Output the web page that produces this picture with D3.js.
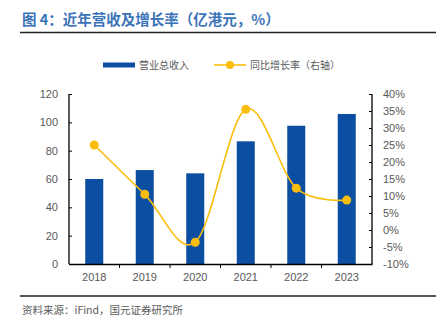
<!DOCTYPE html>
<html>
<head>
<meta charset="utf-8">
<script src="https://cdn.jsdelivr.net/npm/d3@7"></script>
<style>
  body { margin: 0; background: #fff; }
  svg { display: block; font-family: "Liberation Sans", Arial, sans-serif; }
  .cn { font-family: "Noto Sans CJK SC", sans-serif; }
</style>
</head>
<body>
<svg id="chart" width="436" height="323"></svg>
<script>
// données
var annees = ["2018", "2019", "2020", "2021", "2022", "2023"];
var revenus = [60.0, 66.3, 64.0, 86.6, 97.6, 105.9];
var croissance = [25.0, 10.5, -3.6, 35.5, 12.3, 8.8];
var ticksGauche = [0, 20, 40, 60, 80, 100, 120];
var ticksDroite = [-10, -5, 0, 5, 10, 15, 20, 25, 30, 35, 40];

var bleu = "#0b4ea2";
var jaune = "#fbbd0d";
var gris = "#595959";

var svg = d3.select("#chart");
var gauche = 69, droite = 372, haut = 94, bas = 264;

//-------------------titre----------------------------------------
svg.append("text")
    .attr("class", "cn")
    .attr("x", 22).attr("y", 25)
    .attr("fill", "#3b73b9")
    .attr("font-size", 14.5)
    .attr("font-weight", "bold")
    .text("图 4：近年营收及增长率（亿港元，%）");

svg.append("line")
    .attr("x1", 20).attr("x2", 436).attr("y1", 32.5).attr("y2", 32.5)
    .attr("stroke", "#222").attr("stroke-width", 1.5);

svg.append("line")
    .attr("x1", 20).attr("x2", 436).attr("y1", 296).attr("y2", 296)
    .attr("stroke", "#222").attr("stroke-width", 1.5);

svg.append("text")
    .attr("class", "cn")
    .attr("x", 22).attr("y", 314)
    .attr("fill", gris)
    .attr("font-size", 10.5)
    .text("资料来源：iFind，国元证券研究所");

//-------------------échelles----------------------------------------
var x = d3.scaleBand().domain(annees).range([gauche, droite]);
var yG = d3.scaleLinear().domain([0, 120]).range([bas, haut]);
var yD = d3.scaleLinear().domain([-10, 40]).range([bas, haut]);

//-------------------barres----------------------------------------
var largeurBarre = 18;
svg.selectAll("rect.barre")
    .data(revenus)
    .enter().append("rect")
    .attr("class", "barre")
    .attr("x", function(d, i) { return x(annees[i]) + x.bandwidth() / 2 - largeurBarre / 2; })
    .attr("y", function(d) { return yG(d); })
    .attr("width", largeurBarre)
    .attr("height", function(d) { return bas - yG(d); })
    .attr("fill", bleu);

//-------------------axes----------------------------------------
var axeG = svg.append("g")
    .attr("transform", "translate(" + gauche + ",0)")
    .call(d3.axisLeft(yG).tickValues(ticksGauche).tickSize(-3).tickPadding(11));

var axeD = svg.append("g")
    .attr("transform", "translate(" + droite + ",0)")
    .call(d3.axisRight(yD).tickValues(ticksDroite).tickSize(-3).tickPadding(11)
        .tickFormat(function(d) { return d + "%"; }));

var axeX = svg.append("g")
    .attr("transform", "translate(0," + bas + ")")
    .call(d3.axisBottom(x).tickSize(0).tickPadding(9));

// petits traits entre les catégories
svg.selectAll("line.sep")
    .data(annees.slice(1))
    .enter().append("line")
    .attr("class", "sep")
    .attr("x1", function(d) { return x(d); })
    .attr("x2", function(d) { return x(d); })
    .attr("y1", bas).attr("y2", bas + 4)
    .attr("stroke", "#000");

[axeG, axeD, axeX].forEach(function(a) {
    a.select(".domain").attr("stroke", "#000").attr("stroke-width", 1.3);
    a.selectAll(".tick line").attr("stroke", "#000");
    a.selectAll(".tick text").attr("fill", gris).attr("font-size", 11);
});
axeG.select(".domain").attr("d", "M0," + haut + "V" + bas);
axeD.select(".domain").attr("d", "M0," + haut + "V" + bas);

//-------------------courbe----------------------------------------
var ligne = d3.line()
    .x(function(d, i) { return x(annees[i]) + x.bandwidth() / 2; })
    .y(function(d) { return yD(d); })
    .curve(d3.curveCatmullRom.alpha(0));

svg.append("path")
    .datum(croissance)
    .attr("d", ligne)
    .attr("fill", "none")
    .attr("stroke", jaune)
    .attr("stroke-width", 1.6);

svg.selectAll("circle.pt")
    .data(croissance)
    .enter().append("circle")
    .attr("class", "pt")
    .attr("cx", function(d, i) { return x(annees[i]) + x.bandwidth() / 2; })
    .attr("cy", function(d) { return yD(d); })
    .attr("r", 4.5)
    .attr("fill", jaune);

//-------------------légende----------------------------------------
var leg = svg.append("g");
leg.append("rect")
    .attr("x", 103).attr("y", 62.5).attr("width", 32).attr("height", 5)
    .attr("fill", bleu);
leg.append("text")
    .attr("class", "cn")
    .attr("x", 139).attr("y", 68.5)
    .attr("fill", gris).attr("font-size", 10)
    .text("营业总收入");
leg.append("line")
    .attr("x1", 214).attr("x2", 246).attr("y1", 65).attr("y2", 65)
    .attr("stroke", jaune).attr("stroke-width", 1.6);
leg.append("circle")
    .attr("cx", 230).attr("cy", 65).attr("r", 4)
    .attr("fill", jaune);
leg.append("text")
    .attr("class", "cn")
    .attr("x", 250).attr("y", 68.5)
    .attr("fill", gris).attr("font-size", 10)
    .text("同比增长率（右轴）");
</script>
</body>
</html>
